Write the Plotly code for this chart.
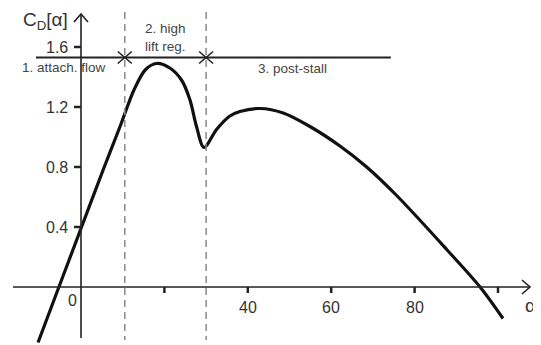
import plotly.graph_objects as go

# ---- data ----
alpha = [-10.3, -5.3, 0.0, 5.3, 9.5, 12.8, 15.5, 18.1, 21.3, 24.1, 26.1, 27.7, 29.5,
         32.5, 35.7, 38.1, 42.9, 48.5, 54.9, 62.1, 68.5, 75.7, 87.7, 95.7, 101.2]
cd = [-0.37, 0.0, 0.39, 0.78, 1.08, 1.32, 1.45, 1.49, 1.46, 1.38, 1.25, 1.07, 0.93,
      1.05, 1.14, 1.17, 1.19, 1.16, 1.07, 0.94, 0.80, 0.61, 0.25, 0.0, -0.21]

y_ticks = [0.4, 0.8, 1.2, 1.6]
y_tick_labels = ["0.4", "0.8", "1.2", "1.6"]
x_ticks = [20, 40, 60, 80, 100]
x_tick_labels = {0: "0", 40: "40", 60: "60", 80: "80"}

region_bounds = [10.5, 30.0]
region_line_level = 1.53
region_line_span = [-10.8, 74.3]
region_texts = ["1. attach. flow", "2. high<br>lift reg.", "3. post-stall"]

# screen geometry (page body has an 8px margin)
OFF = 8
W, H = 541 - OFF, 345 - OFF
PXA, PXC = 4.17, 150.0          # pixels per alpha unit / per C unit
SX0, SY0 = 81.0, 287.0          # screen position of the origin


def ax(sx):
    return (sx - SX0) / PXA


def cy(sy):
    return (SY0 - sy) / PXC


def dx(px):
    return px / PXA


def dy(px):
    return px / PXC


X0, X1 = ax(OFF), ax(541)
Y0, Y1 = cy(345), cy(OFF)

FONT = "Liberation Sans, Arial, sans-serif"
fig = go.Figure()

fig.add_trace(go.Scatter(x=alpha, y=cd, mode="lines",
                         line=dict(color="#111111", width=3.2, shape="spline", smoothing=0.9),
                         hoverinfo="skip", showlegend=False))

shapes = []
ax_col = "#222222"
# x axis
xt = ax(530)
shapes.append(dict(type="line", xref="x", yref="y", x0=ax(13), x1=xt, y0=0, y1=0,
                   line=dict(color=ax_col, width=1.6)))
shapes.append(dict(type="path", xref="x", yref="y",
                   path=f"M {xt - dx(8)} {dy(7)} L {xt} 0 L {xt - dx(8)} {-dy(7)}",
                   line=dict(color=ax_col, width=1.6)))
# y axis
yt = cy(14)
shapes.append(dict(type="line", xref="x", yref="y", x0=0, x1=0, y0=cy(338), y1=yt,
                   line=dict(color=ax_col, width=1.6)))
shapes.append(dict(type="path", xref="x", yref="y",
                   path=f"M {-dx(7)} {yt - dy(8)} L 0 {yt} L {dx(7)} {yt - dy(8)}",
                   line=dict(color=ax_col, width=1.6)))
# y ticks
for v in y_ticks:
    shapes.append(dict(type="line", xref="x", yref="y", x0=-dx(7), x1=0, y0=v, y1=v,
                       line=dict(color=ax_col, width=2.5)))
# x ticks
for v in x_ticks:
    shapes.append(dict(type="line", xref="x", yref="y", x0=v, x1=v, y0=0, y1=-dy(6),
                       line=dict(color=ax_col, width=2.5)))
# region boundaries (dashed)
for b in region_bounds:
    shapes.append(dict(type="line", xref="x", yref="y", x0=b, x1=b, y0=cy(12), y1=cy(340),
                       line=dict(color="#8a8a8a", width=1.5, dash="7px,5px")))
    for s in (1, -1):
        shapes.append(dict(type="line", xref="x", yref="y",
                           x0=b - dx(7), x1=b + dx(7),
                           y0=region_line_level - s * dy(6), y1=region_line_level + s * dy(6),
                           line=dict(color=ax_col, width=1.6)))
# region horizontal line
shapes.append(dict(type="line", xref="x", yref="y", x0=region_line_span[0], x1=region_line_span[1],
                   y0=region_line_level, y1=region_line_level, line=dict(color=ax_col, width=1.8)))

ann = []
tick_font = dict(family=FONT, size=16, color="#333333")
for v, t in zip(y_ticks, y_tick_labels):
    ann.append(dict(x=0, y=v, xref="x", yref="y", text=t, showarrow=False, xanchor="right",
                    yanchor="middle", xshift=-11, font=tick_font))
for v, t in x_tick_labels.items():
    if v == 0:
        ann.append(dict(x=v, y=0, xref="x", yref="y", text=t, showarrow=False, xanchor="center",
                        yanchor="middle", xshift=-9, yshift=-13, font=tick_font))
    else:
        ann.append(dict(x=v, y=0, xref="x", yref="y", text=t, showarrow=False, xanchor="center",
                        yanchor="middle", yshift=-20, font=tick_font))
ann.append(dict(x=ax(530), y=0, xref="x", yref="y", text="α", showarrow=False,
                xanchor="center", yanchor="middle", yshift=-18,
                font=dict(family=FONT, size=19, color="#333333")))
ann.append(dict(x=ax(21), y=cy(21), xref="x", yref="y",
                text="C<sub>D</sub>[α]", showarrow=False, xanchor="left", yanchor="middle",
                font=dict(family=FONT, size=19, color="#333333")))

reg_font = dict(family=FONT, size=13.5, color="#444444")
ann.append(dict(x=ax(64), y=cy(67), xref="x", yref="y", text=region_texts[0],
                showarrow=False, xanchor="center", yanchor="middle", font=reg_font))
ann.append(dict(x=ax(165), y=cy(37), xref="x", yref="y", text=region_texts[1],
                showarrow=False, xanchor="center", yanchor="middle", font=reg_font))
ann.append(dict(x=ax(292), y=cy(68), xref="x", yref="y", text=region_texts[2],
                showarrow=False, xanchor="center", yanchor="middle", font=reg_font))

fig.update_layout(
    width=W, height=H, margin=dict(l=0, r=0, t=0, b=0),
    paper_bgcolor="white", plot_bgcolor="white",
    xaxis=dict(range=[X0, X1], visible=False, fixedrange=True),
    yaxis=dict(range=[Y0, Y1], visible=False, fixedrange=True),
    shapes=shapes, annotations=ann, showlegend=False,
)

fig.write_html("out.html", config={"displayModeBar": False})
